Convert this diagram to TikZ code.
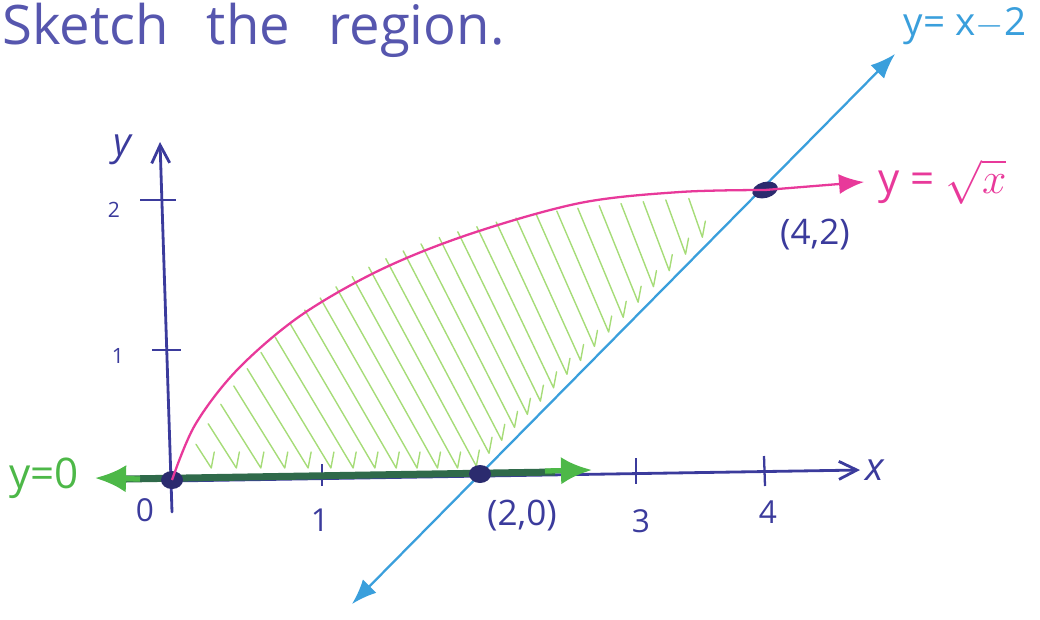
\documentclass[tikz,border=0pt]{standalone}
\usepackage{fontspec}
\setmainfont{Open Sans}
\usepackage{tikz}
\usetikzlibrary{arrows.meta, positioning, shapes.geometric}
\definecolor{axisink}{HTML}{3B3B9C}
\definecolor{dotink}{HTML}{2B2B6E}
\definecolor{titleink}{HTML}{5656AE}
\definecolor{curvepink}{HTML}{E8399A}
\definecolor{linecyan}{HTML}{3A9FDC}
\definecolor{zerogreen}{HTML}{4DB848}
\definecolor{zerodark}{HTML}{2F6A4A}
\definecolor{hatchgreen}{HTML}{A6DC78}

\begin{document}
\begin{tikzpicture}[x=0.02cm, y=-0.02cm,
        axis/.style={axisink, line width=1.6pt, line cap=round},
        tick/.style={axisink, line width=1.3pt},
        numlabel/.style={axisink, font=\fontsize{18}{18}\selectfont, inner sep=0pt},
        smallnum/.style={axisink, font=\fontsize{12}{12}\selectfont, inner sep=0pt},
        pointlabel/.style={axisink, font=\fontsize{20}{20}\selectfont, inner sep=0pt},
        dot/.style={ellipse, fill=dotink, inner sep=0pt, minimum width=0.44cm, minimum height=0.36cm},
        curve/.style={curvepink, line width=1.3pt},
        cyanline/.style={linecyan, line width=1.3pt},
        zeroline/.style={zerodark, line width=4pt},
        zeroarrow/.style={-{Latex[length=0.62cm, width=0.55cm]}, zerogreen, line width=3pt},
        hatch/.style={hatchgreen, line width=0.8pt, line cap=round, line join=round}
    ]
        \useasboundingbox (0,0) rectangle (1040,619);

        \node (title) [titleink, anchor=west, inner sep=0pt, font=\fontsize{31}{31}\selectfont] at (2,30) {Sketch\hspace{0.7em}the\hspace{0.7em}region.};

        \coordinate (lowtip) at (352,604);
        \coordinate (hightip) at (895,54);
        \coordinate (xtip) at (860,470);
        \coordinate (ytip) at (160,142);

        \foreach \i in {0,...,28}{
            \pgfmathsetmacro{\hx}{196+12*\i+0.2*\i*\i}
            \pgfmathsetmacro{\hy}{490-300*(1-exp(-(\hx-172)/145))}
            \pgfmathsetmacro{\hk}{0.65-0.0006*(\hx-185)}
            \pgfmathsetmacro{\hs}{min(468-\hy,(592-1.0129*(\hx-352)-\hy)/(1+1.0129*\hk))}
            \draw [hatch] (\hx,\hy) -- ++({\hk*\hs},\hs) -- ++(3,-16);
        }

        \draw [axis, -{Straight Barb[length=0.36cm, width=0.36cm]}] (172,512) -- (ytip);
        \draw [axis, -{Straight Barb[length=0.36cm, width=0.36cm]}] (172,481) -- (xtip);
        \draw [tick] (140,200) -- (176,200);
        \draw [tick] (152,350) -- (181,350);
        \draw [tick] (322,464) -- (322,486);
        \draw [tick] (636,458) -- (636,484);
        \draw [tick] (764,456) -- (765,486);

        \node (ylab) [axisink, font=\fontsize{22}{22}\selectfont\itshape, inner sep=0pt] at (122,150) {y};
        \node (xlab) [axisink, font=\fontsize{22}{22}\selectfont\itshape, inner sep=0pt, right=3pt of xtip] {x};
        \node (two) [smallnum] at (114,210) {2};
        \node (one) [smallnum] at (118,356) {1};
        \node (zero) [numlabel] at (145,510) {0};
        \node (xone) [numlabel] at (320,520) {1};
        \node (xthree) [numlabel] at (641,521) {3};
        \node (xfour) [numlabel] at (768,512) {4};

        \draw [zeroline] (125,479) -- (555,472);
        \draw [zeroarrow] (140,479) -- (95,478);
        \draw [zeroarrow] (545,471) -- (592,470);

        \draw [cyanline, {Latex[length=0.5cm, width=0.38cm]}-{Latex[length=0.5cm, width=0.38cm]}] (lowtip) -- (hightip);

        \node (O) [dot] at (172,480) {};
        \node (P20) [dot] at (480,474) {};
        \node (P42) [dot, rotate=15, minimum width=0.52cm, minimum height=0.32cm] at (765,190) {};

        \draw [curve] plot[smooth, tension=0.55] coordinates {(172,480) (195,425) (237,370) (300,316) (380,270) (470,234) (580,203) (680,192) (765,190)};
        \draw [curve, -{Latex[length=0.5cm, width=0.4cm]}] (P42.center) -- (864,182);

        \node (curvelab) [curvepink, font=\fontsize{24}{24}\selectfont, inner sep=0pt, anchor=west] at (878,182) {y = $\sqrt{x}$};
        \node (linelab) [linecyan, font=\fontsize{22}{22}\selectfont, inner sep=0pt] at (965,26) {y= x$-$2};
        \node (zerolab) [zerogreen, font=\fontsize{24}{24}\selectfont, inner sep=0pt] at (44,478) {y=0};
        \node (lab42) [pointlabel] at (815,235) {(4,2)};
        \node (lab20) [pointlabel] at (522,516) {(2,0)};
    \end{tikzpicture}
\end{document}
